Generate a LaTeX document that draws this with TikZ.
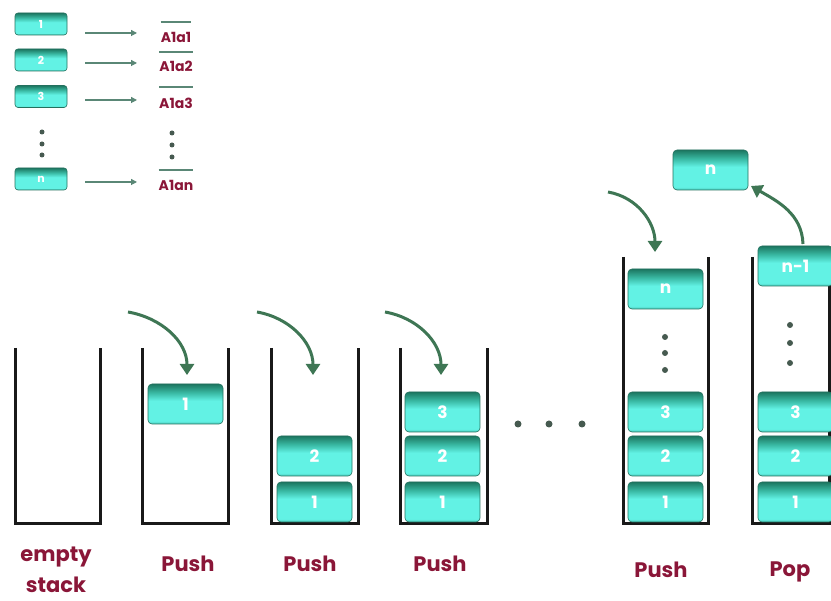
\documentclass[tikz,border=0pt]{standalone}
\usepackage{fontspec}
\setmainfont{Poppins}
\usetikzlibrary{arrows.meta}

\definecolor{labelred}{RGB}{138,22,56}
\definecolor{arrowgreen}{RGB}{62,118,84}
\definecolor{legendline}{RGB}{90,135,118}
\definecolor{dotgray}{RGB}{70,90,80}
\definecolor{boxtop}{RGB}{28,118,96}
\definecolor{boxmid}{RGB}{58,186,164}
\definecolor{boxcyan}{RGB}{98,242,228}
\definecolor{boxlow}{RGB}{76,205,190}
\definecolor{boxedge}{RGB}{36,112,94}

% cell body: dark teal cap fading into bright cyan
% (TikZ maps the node onto the 25bp..75bp band of the shading)
\pgfdeclareverticalshading{cellshade}{100bp}{color(0bp)=(boxlow); color(25bp)=(boxlow); color(29bp)=(boxcyan); color(54bp)=(boxcyan); color(64bp)=(boxmid); color(75bp)=(boxtop); color(100bp)=(boxtop)}

\tikzset{
  cellbox/.style={shading=cellshade, draw=boxedge, line width=0.6pt, rounded corners=4pt,
    minimum width=75pt, minimum height=40pt, inner sep=0pt, text=white,
    font=\bfseries\fontsize{17}{17}\selectfont},
  smallcell/.style={cellbox, minimum width=52pt, minimum height=22pt, rounded corners=3pt,
    font=\bfseries\fontsize{11}{11}\selectfont},
  stackwall/.style={line width=3pt, black!90},
  pusharrow/.style={-{Triangle[width=14pt,length=11pt]}, line width=3pt, arrowgreen},
  caption/.style={text=labelred, font=\bfseries\fontsize{21}{31}\selectfont, align=center, inner sep=0pt},
  legendlbl/.style={text=labelred, font=\bfseries\fontsize{14}{14}\selectfont, inner sep=0pt},
  legarrow/.style={-{Triangle[width=6pt,length=6pt]}, line width=1.2pt, legendline},
  barline/.style={line width=1.5pt, legendline},
  stackdot/.style={circle, fill=dotgray, inner sep=0pt, minimum size=6pt}
}

\begin{document}
\begin{tikzpicture}[x=1pt,y=1pt]
\useasboundingbox (0,0) rectangle (831,601);

% ---------- legend: element i is stored as A1ai ----------
\node[smallcell] (k1) at (41,577) {1};
\node[smallcell] (k2) at (41,541) {2};
\node[smallcell] (k3) at (41,504.5) {3};
\node[stackdot, minimum size=5pt] (kd1) at (42,469) {};
\node[stackdot, minimum size=5pt] (kd2) at (42,457) {};
\node[stackdot, minimum size=5pt] (kd3) at (42,446) {};
\node[smallcell] (kn) at (41,422) {n};

\node[legendlbl] (v1) at (176,563.5) {A1a1};
\node[legendlbl] (v2) at (176,535) {A1a2};
\node[legendlbl] (v3) at (176,497.5) {A1a3};
\node[stackdot, minimum size=5pt] (vd1) at (172,468) {};
\node[stackdot, minimum size=5pt] (vd2) at (172,456) {};
\node[stackdot, minimum size=5pt] (vd3) at (172,444) {};
\node[legendlbl] (vn) at (176,415.5) {A1an};

\draw[barline] (v1.west |- 0,579) -- (v1.east |- 0,579);
\draw[barline] (v2.west |- 0,549) -- (v2.east |- 0,549);
\draw[barline] (v3.west |- 0,514) -- (v3.east |- 0,514);
\draw[barline] (vn.west |- 0,431) -- (vn.east |- 0,431);

\coordinate (a1) at (85,568);  \coordinate (b1) at (137,568);
\coordinate (a2) at (85,538);  \coordinate (b2) at (137,538);
\coordinate (a3) at (85,501);  \coordinate (b3) at (137,501);
\coordinate (an) at (85,419);  \coordinate (bn) at (137,419);
\draw[legarrow] (a1) -- (b1);
\draw[legarrow] (a2) -- (b2);
\draw[legarrow] (a3) -- (b3);
\draw[legarrow] (an) -- (bn);

% ---------- stack containers ----------
\draw[stackwall] (15,253) -- (15,77) -- (100,77) -- (100,253);
\draw[stackwall] (142,253) -- (142,77) -- (228,77) -- (228,253);
\draw[stackwall] (271,253) -- (271,77) -- (358,77) -- (358,253);
\draw[stackwall] (400,253) -- (400,77) -- (487,77) -- (487,253);
\draw[stackwall] (623,344) -- (623,77) -- (708,77) -- (708,344);
\draw[stackwall] (752,344) -- (752,77) -- (829,77) -- (829,344);

% ---------- stack contents ----------
% after first push
\node[cellbox] (s2c1) at (185.5,197) {1};
% after second push
\node[cellbox] (s3c1) at (314.5,99) {1};
\node[cellbox] (s3c2) at (314.5,145) {2};
% after third push
\node[cellbox] (s4c1) at (442.5,99) {1};
\node[cellbox] (s4c2) at (442.5,145) {2};
\node[cellbox] (s4c3) at (442.5,189) {3};
% after n-th push
\node[cellbox] (s5c1) at (665.5,99) {1};
\node[cellbox] (s5c2) at (665.5,145) {2};
\node[cellbox] (s5c3) at (665.5,189) {3};
\node[stackdot] (s5d1) at (665,231) {};
\node[stackdot] (s5d2) at (665,248) {};
\node[stackdot] (s5d3) at (665,264) {};
\node[cellbox] (s5cn) at (665.5,312) {n};
% after pop
\node[cellbox] (s6c1) at (795.5,99) {1};
\node[cellbox] (s6c2) at (795.5,145) {2};
\node[cellbox] (s6c3) at (795.5,189) {3};
\node[stackdot] (s6d1) at (790,238) {};
\node[stackdot] (s6d2) at (790,258) {};
\node[stackdot] (s6d3) at (790,276) {};
\node[cellbox] (s6cn) at (795.5,335) {n-1};
\node[cellbox] (out) at (710.5,431) {n};

% gap between the third push and the n-th push
\node[stackdot, minimum size=7pt] (g1) at (518,177) {};
\node[stackdot, minimum size=7pt] (g2) at (549,177) {};
\node[stackdot, minimum size=7pt] (g3) at (582,177) {};

% ---------- push / pop arrows ----------
\coordinate (p2s) at (128,289); \coordinate (p2t) at (187,226);
\coordinate (p3s) at (257,289); \coordinate (p3t) at (313,226);
\coordinate (p4s) at (385,289); \coordinate (p4t) at (441,226);
\coordinate (p5s) at (608,409); \coordinate (p5t) at (655,349);
\coordinate (pops) at (803,357); \coordinate (popt) at (751,415);
\draw[pusharrow] (p2s) to[out=-10,in=90] (p2t);
\draw[pusharrow] (p3s) to[out=-10,in=90] (p3t);
\draw[pusharrow] (p4s) to[out=-10,in=90] (p4t);
\draw[pusharrow] (p5s) to[out=-10,in=90] (p5t);
\draw[pusharrow] (pops) to[out=92,in=-30] (popt);

% ---------- captions ----------
\node[caption] (t1) at (56,31) {empty\\stack};
\node[caption, anchor=base] (t2) at (188,29) {Push};
\node[caption, anchor=base] (t3) at (310,29) {Push};
\node[caption, anchor=base] (t4) at (440,29) {Push};
\node[caption, anchor=base] (t5) at (661,23) {Push};
\node[caption, anchor=base] (t6) at (790,24) {Pop};
\end{tikzpicture}
\end{document}
